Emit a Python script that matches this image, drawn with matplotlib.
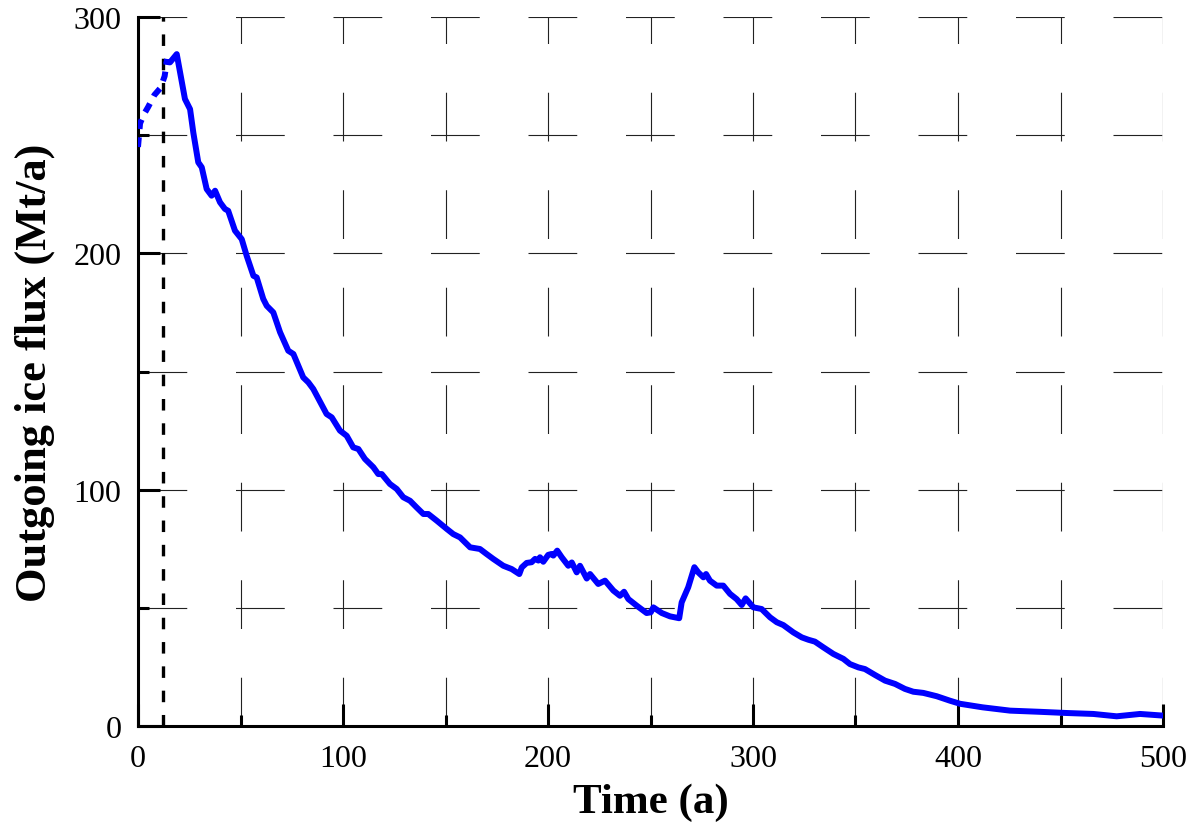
import matplotlib
matplotlib.use("Agg")
import matplotlib.pyplot as plt
from matplotlib.ticker import MultipleLocator

plt.rcParams['font.family'] = ['Liberation Serif', 'DejaVu Serif']
plt.rcParams['lines.scale_dashes'] = False

# Dashed (spin-up) part of the flux series
t_spinup = [0, 1, 3, 5, 8, 11, 13, 14]
flux_spinup = [245, 255, 259, 262, 267, 270, 275, 281]

# Main flux series (Time in a, flux in Mt/a)
t_main = [14, 15.6, 18.9, 20.5, 22.9, 25.4, 27, 29.4, 31.1, 33.5, 35.9, 37.6, 40, 42.4, 44,
          47.3, 50.6, 53, 56.3, 57.9, 61.1, 62.8, 66, 69.3, 73.3, 75.8, 80.6, 83.1, 85.5,
          92, 94.5, 98.5, 101.8, 105, 107.5, 110.7, 114.8, 117.2, 118.9, 122.9, 126.2,
          129.4, 132.7, 135.9, 139.2, 141.6, 145.7, 150.6, 153.8, 157.1, 162, 166.8,
          170, 173.3, 178.2, 182.3, 186, 187.2, 189.6, 192, 193.7, 195.3, 196.1, 197.7,
          200.1, 201.8, 202.6, 204.5, 206.7, 209.9, 211.6, 214, 215.6, 218.9, 220.5,
          224.5, 227.8, 231.9, 235.1, 237.1, 239.2, 243.3, 248.1, 250.1, 251.4, 255.5,
          259.5, 264, 265.2, 268.4, 271.4, 273.3, 275.8, 277.1, 279, 282.3, 285.5, 288.8,
          292, 294.5, 296.4, 300.2, 304.2, 308.3, 311.6, 314.8, 319.7, 323.8, 327, 330.2,
          334.3, 339.2, 344.1, 347.3, 351.4, 354.6, 359.5, 364.4, 369.3, 374.1, 378.2,
          383.1, 389.6, 396.1, 401, 412, 425.4, 440, 453, 466, 477.4, 488.8, 500]
flux_main = [281, 280.8, 284.3, 276.6, 265.3, 261, 251, 238.5, 236.4, 227.2, 224.4, 226.5,
             221.6, 218.8, 218, 209.6, 206, 199, 190.5, 189.8, 180.7, 177.8, 175, 166.6,
             158.8, 157.4, 147.5, 145.4, 142.6, 132, 130.6, 125, 122.8, 117.9, 117.2, 113,
             109.5, 106.6, 106.6, 102.4, 100.3, 96.8, 95.3, 92.5, 89.7, 89.7, 86.9, 83.4,
             81.2, 79.8, 75.6, 74.9, 72.8, 70.7, 67.8, 66.4, 64.3, 67.1, 69, 69.3, 70.7,
             70, 71.4, 69.5, 72.4, 72.8, 72.1, 74.2, 71.4, 67.8, 69.2, 65, 67.8, 62.4,
             64.3, 60.1, 61.5, 57.3, 55.1, 56.8, 53.7, 50.9, 47.8, 48.1, 50.2, 47.8, 46.4,
             45.6, 52.3, 58.7, 67.2, 65, 62.9, 64.3, 61.5, 59.4, 59.4, 55.9, 53.7, 51.2,
             54, 50.2, 49.5, 46, 43.9, 42.7, 39.6, 37.5, 36.5, 35.7, 33.3, 30.5, 28.4,
             26.2, 24.8, 24.1, 21.6, 19.2, 17.8, 15.7, 14.5, 14, 12.6, 10.7, 9.4, 7.9,
             6.5, 6, 5.5, 5.1, 4.1, 5.1, 4.4]

# Vertical marker (end of spin-up)
t_marker = 12
x_ticks = [0, 100, 200, 300, 400, 500]
y_ticks = [0, 100, 200, 300]

fig = plt.figure(figsize=(12.02, 8.28), dpi=100)
ax = fig.add_axes([138 / 1202, 101 / 828, 1025 / 1202, 709 / 828])

ax.set_xlim(0, 500)
ax.set_ylim(0, 300)
ax.xaxis.set_major_locator(MultipleLocator(100))
ax.xaxis.set_minor_locator(MultipleLocator(50))
ax.yaxis.set_major_locator(MultipleLocator(100))
ax.yaxis.set_minor_locator(MultipleLocator(50))
ax.set_xticks(x_ticks)
ax.set_yticks(y_ticks)

ax.grid(True, which='both', color='#222222', linewidth=0.8,
        linestyle=(0, (35.1, 35.1)), zorder=0)
ax.set_axisbelow(True)

for s in ['top', 'right']:
    ax.spines[s].set_visible(False)
for s in ['left', 'bottom']:
    ax.spines[s].set_linewidth(2.2)
    ax.spines[s].set_capstyle('projecting')

ax.tick_params(which='major', direction='in', length=16, width=2.2,
               labelsize=23, pad=13)
ax.tick_params(which='minor', direction='in', length=8, width=2.2)
ax.tick_params(axis='y', which='both', pad=12)
ax.tick_params(top=False, right=False)

ax.plot([t_marker, t_marker], [0, 300], color='black', linewidth=2.4,
        linestyle=(0, (8.3, 9.2)), zorder=3)

ax.plot(t_spinup, flux_spinup, color='#0000ff', linewidth=4.3,
        linestyle=(0, (7, 6)), zorder=4)
ax.plot(t_main, flux_main, color='#0000ff', linewidth=4.3,
        solid_joinstyle='round', zorder=4)

ax.set_xlabel('Time (a)', fontsize=31, fontweight='bold', labelpad=7)
ax.set_ylabel('Outgoing ice flux (Mt/a)', fontsize=32, fontweight='bold', labelpad=13)

fig.savefig('out.png', dpi=100)
